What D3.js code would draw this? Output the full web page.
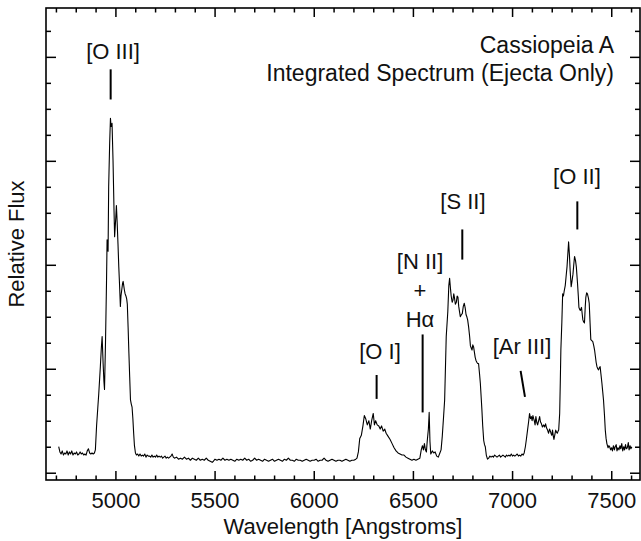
<!DOCTYPE html>
<html>
<head>
<meta charset="utf-8">
<script src="https://cdn.jsdelivr.net/npm/d3@7"></script>
<style>
  html, body { margin: 0; padding: 0; background: #fff; }
  svg { display: block; }
  text { font-family: "Liberation Sans", Arial, Helvetica, sans-serif; fill: #111; }
</style>
</head>
<body>
<svg id="chart" width="641" height="541"></svg>
<script>
// Cassiopeia A integrated optical spectrum (ejecta only): [wavelength (Å), relative flux]
const spectrum = [
  [4714,0.25],[4720,0.20],[4726,0.18],[4732,0.21],[4738,0.17],[4744,0.19],[4750,0.18],[4756,0.21],
  [4762,0.17],[4768,0.20],[4774,0.18],[4780,0.21],[4786,0.17],[4792,0.19],[4798,0.18],[4804,0.20],
  [4810,0.17],[4816,0.18],[4822,0.20],[4828,0.18],[4834,0.19],[4840,0.17],[4846,0.18],[4852,0.17],
  [4858,0.21],[4864,0.23],[4870,0.19],[4876,0.18],[4882,0.19],[4888,0.18],[4894,0.19],
  // [O III] 4959/5007 complex
  [4899,0.22],[4905,0.45],[4911,0.62],[4916,0.76],[4924,1.02],[4929,1.20],[4933,1.31],[4938,1.05],
  [4942,0.88],[4945,0.80],[4950,1.25],[4955,1.82],[4958,2.24],[4961,2.18],[4963,2.13],[4966,2.75],
  [4971,3.17],[4975,3.41],[4978,3.33],[4980,3.34],[4983,3.36],[4988,3.00],[4993,2.52],[4996,2.27],
  [5002,2.46],[5005,2.57],[5009,2.40],[5013,2.20],[5017,1.98],[5021,1.80],[5025,1.60],[5028,1.70],
  [5032,1.76],[5036,1.82],[5039,1.84],[5042,1.80],[5045,1.76],[5049,1.72],[5053,1.70],[5057,1.67],
  [5060,1.62],[5064,1.40],[5068,1.15],[5072,0.92],[5076,0.70],[5080,0.66],[5084,0.63],[5088,0.52],
  [5092,0.38],[5096,0.26],[5101,0.19],
  // continuum
  [5106,0.17],[5112,0.18],[5118,0.16],[5124,0.18],[5130,0.16],[5136,0.17],[5142,0.16],[5148,0.18],
  [5154,0.15],[5160,0.17],[5166,0.16],[5172,0.16],[5178,0.15],[5184,0.17],[5190,0.15],[5196,0.16],
  [5202,0.15],[5208,0.17],[5214,0.15],[5220,0.16],[5226,0.15],[5232,0.16],[5238,0.14],[5244,0.15],
  [5250,0.16],[5256,0.14],[5262,0.15],[5268,0.14],[5274,0.15],[5280,0.16],[5286,0.18],[5292,0.15],
  [5298,0.14],[5308,0.15],[5318,0.13],[5328,0.14],[5338,0.13],[5348,0.15],[5358,0.13],[5368,0.14],
  [5378,0.12],[5388,0.14],[5398,0.13],[5408,0.12],[5418,0.14],[5428,0.12],[5438,0.13],[5448,0.12],
  [5458,0.14],[5468,0.12],[5478,0.11],[5488,0.10],[5494,0.11],[5502,0.13],[5512,0.12],[5522,0.13],
  [5532,0.12],[5542,0.14],[5552,0.12],[5562,0.13],[5572,0.12],[5582,0.13],[5592,0.12],[5602,0.11],
  [5612,0.13],[5622,0.12],[5632,0.13],[5642,0.12],[5652,0.14],[5662,0.12],[5672,0.13],[5682,0.11],
  [5692,0.12],[5702,0.14],[5712,0.12],[5722,0.13],[5732,0.12],[5742,0.11],[5752,0.13],[5762,0.12],
  [5772,0.11],[5782,0.12],[5792,0.13],[5802,0.11],[5812,0.12],[5822,0.13],[5832,0.12],[5842,0.11],
  [5852,0.13],[5862,0.12],[5872,0.14],[5882,0.12],[5892,0.12],[5902,0.11],[5912,0.13],[5922,0.12],
  [5932,0.12],[5942,0.11],[5952,0.12],[5962,0.13],[5972,0.12],[5982,0.11],[5992,0.12],[6002,0.12],
  [6012,0.13],[6022,0.11],[6032,0.12],[6042,0.12],[6052,0.14],[6062,0.12],[6072,0.11],[6082,0.12],
  [6092,0.13],[6102,0.12],[6112,0.11],[6122,0.12],[6132,0.12],[6142,0.11],[6152,0.12],[6162,0.13],
  [6172,0.12],[6182,0.11],[6192,0.12],[6202,0.12],[6212,0.13],
  // [O I] 6300/6364
  [6218,0.14],[6225,0.20],[6232,0.33],[6240,0.36],[6248,0.45],[6255,0.55],[6262,0.52],[6270,0.46],
  [6278,0.50],[6285,0.42],[6292,0.50],[6300,0.57],[6306,0.46],[6312,0.50],[6320,0.46],[6328,0.45],
  [6335,0.42],[6342,0.45],[6350,0.40],[6358,0.42],[6365,0.38],[6375,0.35],[6385,0.32],[6395,0.28],
  [6405,0.24],[6415,0.21],[6425,0.19],[6435,0.18],[6445,0.17],[6455,0.17],[6465,0.15],[6475,0.14],
  [6485,0.13],[6495,0.12],[6505,0.13],[6515,0.12],[6525,0.13],[6535,0.14],
  // [N II] + H-alpha
  [6542,0.22],[6548,0.26],[6553,0.22],[6558,0.28],[6563,0.22],[6568,0.20],[6572,0.30],[6578,0.42],
  [6582,0.58],[6586,0.30],[6590,0.18],[6598,0.21],[6605,0.19],[6612,0.20],[6620,0.16],[6628,0.15],
  [6636,0.19],[6642,0.22],[6648,0.35],
  // [S II] 6716/6731
  [6655,0.55],[6660,0.70],[6668,1.31],[6676,1.55],[6681,1.80],[6685,1.87],[6689,1.78],[6693,1.70],
  [6698,1.64],[6702,1.66],[6706,1.72],[6709,1.69],[6714,1.62],[6719,1.64],[6723,1.70],[6727,1.69],
  [6731,1.60],[6735,1.55],[6739,1.50],[6744,1.52],[6749,1.53],[6754,1.60],[6759,1.63],[6764,1.58],
  [6768,1.52],[6772,1.50],[6776,1.47],[6781,1.40],[6786,1.31],[6790,1.22],[6794,1.20],[6798,1.18],
  [6802,1.23],[6806,1.21],[6810,1.16],[6814,1.11],[6818,1.08],[6823,1.06],[6827,1.05],[6831,1.05],
  [6836,0.95],[6840,0.86],[6845,0.70],[6848,0.60],[6852,0.45],[6857,0.31],[6861,0.27],[6865,0.25],
  [6870,0.17],[6876,0.13],[6882,0.14],[6888,0.16],[6894,0.15],[6900,0.16],[6906,0.15],[6912,0.17],
  [6918,0.16],[6924,0.15],[6930,0.16],[6936,0.17],[6942,0.15],[6948,0.16],[6954,0.17],[6960,0.16],
  [6966,0.15],[6972,0.17],[6978,0.16],[6984,0.17],[6990,0.16],[6996,0.18],[7002,0.16],[7008,0.17],
  [7014,0.16],[7020,0.17],[7026,0.18],[7032,0.16],[7038,0.17],[7044,0.16],[7050,0.18],[7056,0.17],
  // [Ar III] 7136
  [7061,0.19],[7067,0.25],[7072,0.32],[7078,0.41],[7084,0.50],[7088,0.57],[7093,0.52],[7097,0.54],
  [7101,0.50],[7105,0.55],[7109,0.52],[7112,0.50],[7116,0.46],[7120,0.54],[7125,0.48],[7129,0.46],
  [7134,0.50],[7139,0.54],[7143,0.49],[7148,0.47],[7153,0.44],[7159,0.46],[7164,0.44],[7169,0.47],
  [7174,0.43],[7179,0.41],[7184,0.38],[7189,0.42],[7193,0.40],[7196,0.38],[7200,0.36],[7204,0.41],
  [7208,0.35],[7211,0.32],[7215,0.36],[7220,0.41],[7224,0.39],[7228,0.38],[7232,0.40],[7235,0.41],
  // [O II] 7320/7330
  [7240,0.57],[7243,0.86],[7246,1.18],[7251,1.45],[7255,1.72],[7259,1.70],[7263,1.75],[7268,1.80],
  [7272,1.88],[7277,1.98],[7281,2.10],[7285,2.22],[7289,2.10],[7293,1.94],[7298,1.79],[7302,1.84],
  [7307,1.91],[7311,2.00],[7315,2.08],[7320,2.04],[7324,1.98],[7330,1.82],[7334,1.70],[7337,1.59],
  [7341,1.57],[7344,1.56],[7350,1.59],[7354,1.52],[7357,1.47],[7361,1.45],[7365,1.44],[7369,1.60],
  [7372,1.69],[7376,1.73],[7380,1.72],[7385,1.68],[7389,1.63],[7393,1.45],[7397,1.28],[7402,1.27],
  [7407,1.26],[7412,1.22],[7416,1.18],[7420,1.12],[7424,1.06],[7428,1.02],[7432,1.00],[7436,0.99],
  [7440,1.01],[7444,1.02],[7448,0.95],[7453,0.86],[7457,0.78],[7461,0.70],[7466,0.55],[7470,0.41],
  [7474,0.33],[7478,0.28],[7484,0.24],[7488,0.26],[7492,0.25],[7497,0.22],[7502,0.24],[7506,0.21],
  [7511,0.26],[7516,0.22],[7520,0.25],[7525,0.27],[7529,0.21],[7534,0.24],[7539,0.22],[7544,0.26],
  [7548,0.23],[7553,0.28],[7558,0.21],[7563,0.25],[7567,0.22],[7572,0.27],[7576,0.23],[7581,0.24],
  [7586,0.29],[7590,0.22],[7595,0.26],[7599,0.23],[7604,0.25]
];

// Axis ticks
const xMajorTicks = [5000, 5500, 6000, 6500, 7000, 7500];
const xMinorTicks = [4700,4800,4900,5100,5200,5300,5400,5600,5700,5800,5900,6100,6200,6300,6400,
                     6600,6700,6800,6900,7100,7200,7300,7400,7600];
const yMajorTicks = [0, 1, 2, 3, 4];
const yMinorTicks = [0.25,0.5,0.75,1.25,1.5,1.75,2.25,2.5,2.75,3.25,3.5,3.75,4.25];

// Line identifications: label lines, label anchor and marker segment (wavelength, flux)
const lineLabels = [
  { lines: ["[O III]"],              lx: 4988, ly: 3.98, m: [[4976, 3.88], [4976, 3.59]] },
  { lines: ["[O I]"],                lx: 6334, ly: 1.09, m: [[6317, 0.94], [6317, 0.71]] },
  { lines: ["[N II]", "+", "Hα"],    lx: 6536, ly: 1.96, m: [[6549, 1.33], [6549, 0.58]] },
  { lines: ["[S II]"],               lx: 6752, ly: 2.54, m: [[6749, 2.34], [6749, 2.05]] },
  { lines: ["[Ar III]"],             lx: 7050, ly: 1.14, m: [[7043, 0.98], [7065, 0.73]] },
  { lines: ["[O II]"],               lx: 7327, ly: 2.78, m: [[7329, 2.61], [7329, 2.34]] }
];

const titleLines = ["Cassiopeia A", "Integrated Spectrum (Ejecta Only)"];
const xTitle = "Wavelength [Angstroms]";
const yTitle = "Relative Flux";

// Layout
const frame = { left: 46, right: 640, top: 8, bottom: 480 };
const fontSize = 22;
const titleFontSize = 23;

const svg = d3.select("#chart");

const x = d3.scaleLinear().domain([4650, 7645]).range([frame.left, frame.right]);
const y = d3.scaleLinear().domain([-0.07, 4.47]).range([frame.bottom, frame.top]);

// Spectrum trace
const line = d3.line().x(d => x(d[0])).y(d => y(d[1]));
svg.append("path")
  .datum(spectrum)
  .attr("d", line)
  .attr("fill", "none")
  .attr("stroke", "#000")
  .attr("stroke-width", 1.1)
  .attr("stroke-linejoin", "round");

// Axes: ticks point into the plot on all four sides
function styleAxis(g) {
  g.select(".domain").remove();
  g.selectAll(".tick line").attr("stroke", "#000").attr("stroke-width", 1.5);
  g.selectAll("text").style("font-size", fontSize + "px").attr("fill", "#111");
}

svg.append("g").attr("transform", `translate(0,${frame.bottom})`)
  .call(d3.axisBottom(x).tickValues(xMajorTicks).tickSize(-9).tickPadding(12).tickFormat(d3.format("d")))
  .call(styleAxis);
svg.append("g").attr("transform", `translate(0,${frame.bottom})`)
  .call(d3.axisBottom(x).tickValues(xMinorTicks).tickSize(-4.5).tickFormat(""))
  .call(styleAxis);
svg.append("g").attr("transform", `translate(0,${frame.top})`)
  .call(d3.axisTop(x).tickValues(xMajorTicks).tickSize(-9).tickFormat(""))
  .call(styleAxis);
svg.append("g").attr("transform", `translate(0,${frame.top})`)
  .call(d3.axisTop(x).tickValues(xMinorTicks).tickSize(-4.5).tickFormat(""))
  .call(styleAxis);
svg.append("g").attr("transform", `translate(${frame.left},0)`)
  .call(d3.axisLeft(y).tickValues(yMajorTicks).tickSize(-10).tickFormat(""))
  .call(styleAxis);
svg.append("g").attr("transform", `translate(${frame.left},0)`)
  .call(d3.axisLeft(y).tickValues(yMinorTicks).tickSize(-5).tickFormat(""))
  .call(styleAxis);
svg.append("g").attr("transform", `translate(${frame.right},0)`)
  .call(d3.axisRight(y).tickValues(yMajorTicks).tickSize(-10).tickFormat(""))
  .call(styleAxis);
svg.append("g").attr("transform", `translate(${frame.right},0)`)
  .call(d3.axisRight(y).tickValues(yMinorTicks).tickSize(-5).tickFormat(""))
  .call(styleAxis);

// Plot frame
svg.append("rect")
  .attr("x", frame.left).attr("y", frame.top)
  .attr("width", frame.right - frame.left).attr("height", frame.bottom - frame.top)
  .attr("fill", "none").attr("stroke", "#000").attr("stroke-width", 1.6);

// Axis titles
svg.append("text")
  .attr("x", (frame.left + frame.right) / 2).attr("y", 534)
  .attr("text-anchor", "middle").style("font-size", fontSize + "px")
  .text(xTitle);
svg.append("text")
  .attr("transform", `translate(24,${(frame.top + frame.bottom) / 2}) rotate(-90)`)
  .attr("text-anchor", "middle").style("font-size", fontSize + "px")
  .text(yTitle);

// Title block, right-aligned in the upper corner
svg.append("g").selectAll("text").data(titleLines).join("text")
  .attr("x", 614).attr("y", (d, i) => 53 + i * 28)
  .attr("text-anchor", "end").style("font-size", titleFontSize + "px")
  .text(d => d);

// Line identification labels and markers
const ids = svg.append("g");
lineLabels.forEach(lab => {
  ids.append("g").selectAll("text").data(lab.lines).join("text")
    .attr("x", x(lab.lx))
    .attr("y", (d, i) => y(lab.ly) + i * 29)
    .attr("text-anchor", "middle").style("font-size", fontSize + "px")
    .text(d => d);
  ids.append("line")
    .attr("x1", x(lab.m[0][0])).attr("y1", y(lab.m[0][1]))
    .attr("x2", x(lab.m[1][0])).attr("y2", y(lab.m[1][1]))
    .attr("stroke", "#000").attr("stroke-width", 2);
});
</script>
</body>
</html>
